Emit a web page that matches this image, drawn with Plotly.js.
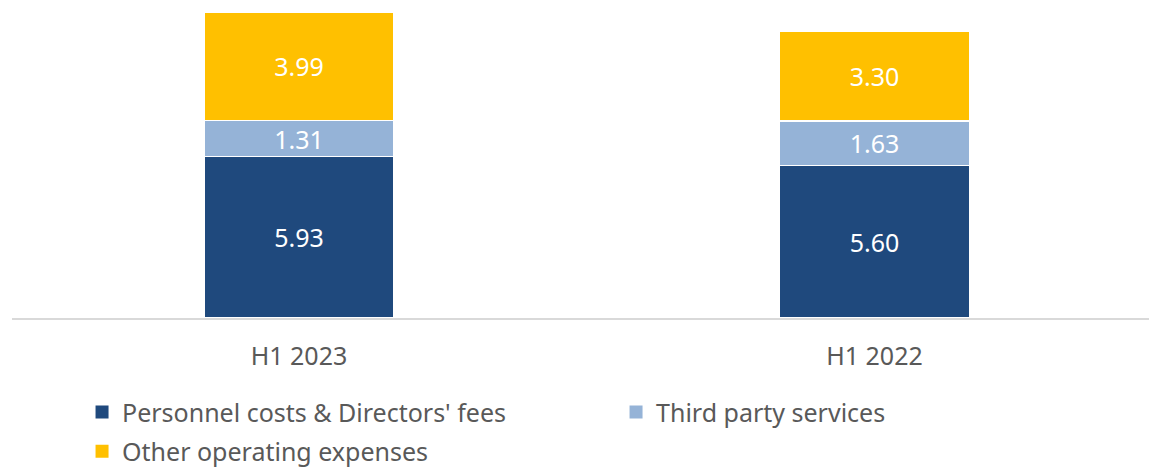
<!DOCTYPE html>
<html>
<head>
<meta charset="utf-8">
<script src="https://cdn.plot.ly/plotly-3.0.1.min.js"></script>
<style>
  html, body { margin: 0; padding: 0; background: #ffffff; }
  #chart { width: 1149px; height: 470px; }
</style>
</head>
<body>
<div id="chart"></div>
<script>
const categories = ["H1 2023", "H1 2022"];
const personnel = [5.93, 5.60];
const thirdParty = [1.31, 1.63];
const otherOpex = [3.99, 3.30];

const seriesNames = ["Personnel costs & Directors' fees", "Third party services", "Other operating expenses"];
const seriesColors = ["#1F497D", "#95B3D7", "#FFC000"];
const seriesValues = [personnel, thirdParty, otherOpex];

const FONT = "Noto Sans, Open Sans, sans-serif";

// stacked bars (no legend of their own)
const barTraces = seriesValues.map((vals, i) => ({
  type: "bar",
  name: seriesNames[i],
  x: categories,
  y: vals,
  width: 0.33,
  text: vals.map(v => v.toFixed(2)),
  textposition: "inside",
  insidetextanchor: "middle",
  constraintext: "none",
  textfont: { family: FONT, size: 25, color: "#ffffff" },
  marker: { color: seriesColors[i], line: { color: "#ffffff", width: 1.5 } },
  hoverinfo: "skip",
  showlegend: false
}));

// legend entries with square swatches
const legendTraces = seriesNames.map((name, i) => ({
  type: "scatter",
  mode: "markers",
  name: name,
  x: [null],
  y: [null],
  marker: { symbol: "square", size: 13, color: seriesColors[i] },
  hoverinfo: "skip",
  legend: i === 2 ? "legend2" : "legend"
}));

const legendCommon = {
  orientation: "h",
  font: { family: FONT, size: 25, color: "#595959" },
  bgcolor: "rgba(0,0,0,0)",
  xanchor: "left",
  yanchor: "middle",
  entrywidth: 489,
  entrywidthmode: "pixels",
  traceorder: "normal"
};

const layout = {
  width: 1149,
  height: 470,
  margin: { l: 12, r: 0, t: 12, b: 152, autoexpand: false },
  paper_bgcolor: "#ffffff",
  plot_bgcolor: "#ffffff",
  barmode: "stack",
  showlegend: true,
  font: { family: FONT, color: "#595959" },
  xaxis: {
    type: "category",
    range: [-0.4987, 1.477],
    showline: true,
    linecolor: "#D9D9D9",
    linewidth: 1.5,
    showgrid: false,
    zeroline: false,
    ticks: "outside",
    ticklen: 15,
    tickcolor: "rgba(0,0,0,0)",
    tickfont: { family: FONT, size: 25, color: "#595959" },
    fixedrange: true
  },
  yaxis: {
    range: [0, 11.23],
    visible: false,
    showgrid: false,
    zeroline: false,
    fixedrange: true
  },
  legend: Object.assign({}, legendCommon, { x: 0.0616, y: -0.308 }),
  legend2: Object.assign({}, legendCommon, { x: 0.0616, y: -0.436 })
};

Plotly.newPlot("chart", barTraces.concat(legendTraces), layout, { displayModeBar: false, staticPlot: true });
</script>
</body>
</html>
